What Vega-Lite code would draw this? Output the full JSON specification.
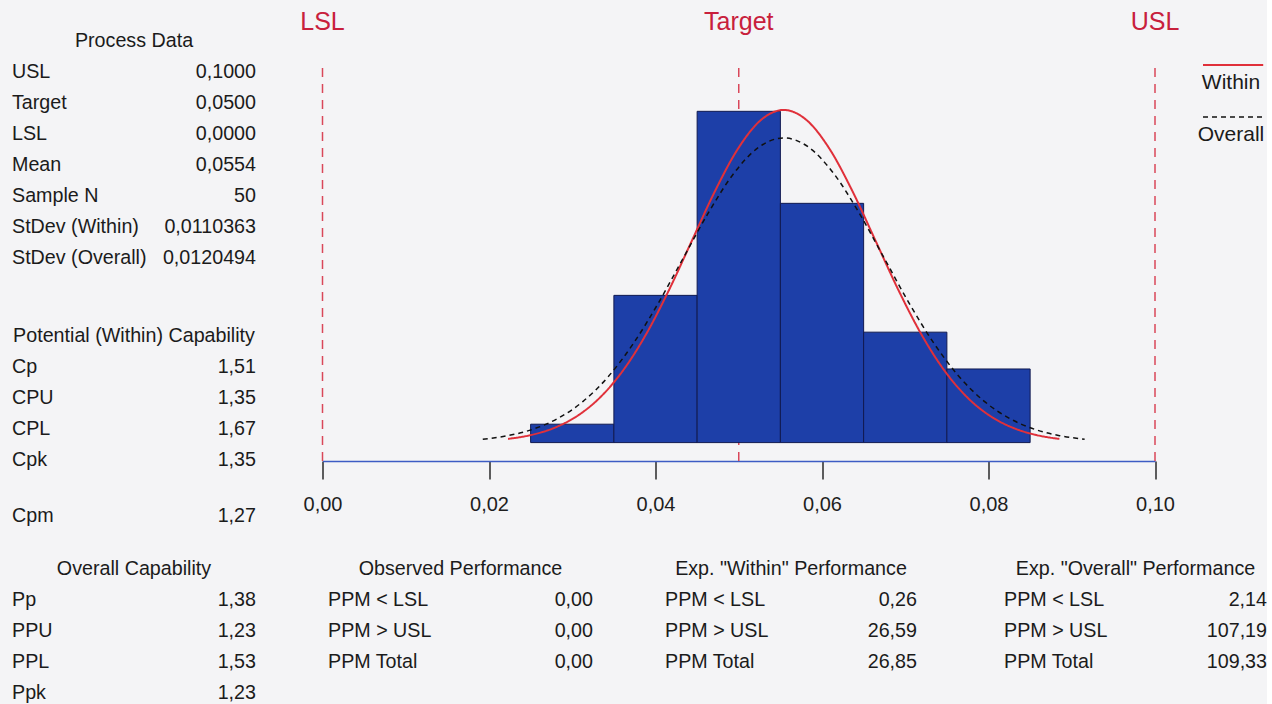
{
  "$schema": "https://vega.github.io/schema/vega-lite/v6.json",
  "background": "#f4f4f6",
  "padding": {"left": 12, "top": 8, "right": 0, "bottom": 0},
  "config": {
    "font": "Liberation Sans",
    "view": {"stroke": null},
    "text": {"fontSize": 19.7, "color": "#1b1b1b", "baseline": "middle"}
  },
  "datasets": {
    "process": [
      {"label": "USL", "value": "0,1000"},
      {"label": "Target", "value": "0,0500"},
      {"label": "LSL", "value": "0,0000"},
      {"label": "Mean", "value": "0,0554"},
      {"label": "Sample N", "value": "50"},
      {"label": "StDev (Within)", "value": "0,0110363"},
      {"label": "StDev (Overall)", "value": "0,0120494"}
    ],
    "potential": [
      {"label": "Cp", "value": "1,51"},
      {"label": "CPU", "value": "1,35"},
      {"label": "CPL", "value": "1,67"},
      {"label": "Cpk", "value": "1,35"}
    ],
    "cpm": [{"label": "Cpm", "value": "1,27"}],
    "overallcap": [
      {"label": "Pp", "value": "1,38"},
      {"label": "PPU", "value": "1,23"},
      {"label": "PPL", "value": "1,53"},
      {"label": "Ppk", "value": "1,23"}
    ],
    "observed": [
      {"label": "PPM < LSL", "value": "0,00"},
      {"label": "PPM > USL", "value": "0,00"},
      {"label": "PPM Total", "value": "0,00"}
    ],
    "expwithin": [
      {"label": "PPM < LSL", "value": "0,26"},
      {"label": "PPM > USL", "value": "26,59"},
      {"label": "PPM Total", "value": "26,85"}
    ],
    "expoverall": [
      {"label": "PPM < LSL", "value": "2,14"},
      {"label": "PPM > USL", "value": "107,19"},
      {"label": "PPM Total", "value": "109,33"}
    ],
    "hist": [
      {"bin_start": 0.025, "bin_end": 0.035, "count": 1},
      {"bin_start": 0.035, "bin_end": 0.045, "count": 8},
      {"bin_start": 0.045, "bin_end": 0.055, "count": 18},
      {"bin_start": 0.055, "bin_end": 0.065, "count": 13},
      {"bin_start": 0.065, "bin_end": 0.075, "count": 6},
      {"bin_start": 0.075, "bin_end": 0.085, "count": 4}
    ],
    "curves": [
      {"series": "Within", "value": 0.022291, "count": 0.201},
      {"series": "Within", "value": 0.025050, "count": 0.412},
      {"series": "Within", "value": 0.027809, "count": 0.794},
      {"series": "Within", "value": 0.030568, "count": 1.438},
      {"series": "Within", "value": 0.033327, "count": 2.446},
      {"series": "Within", "value": 0.036086, "count": 3.909},
      {"series": "Within", "value": 0.038846, "count": 5.868},
      {"series": "Within", "value": 0.041605, "count": 8.275},
      {"series": "Within", "value": 0.044364, "count": 10.963},
      {"series": "Within", "value": 0.047123, "count": 13.643},
      {"series": "Within", "value": 0.049882, "count": 15.950},
      {"series": "Within", "value": 0.052641, "count": 17.518},
      {"series": "Within", "value": 0.0554, "count": 18.074},
      {"series": "Within", "value": 0.058159, "count": 17.518},
      {"series": "Within", "value": 0.060918, "count": 15.950},
      {"series": "Within", "value": 0.063677, "count": 13.643},
      {"series": "Within", "value": 0.066436, "count": 10.963},
      {"series": "Within", "value": 0.069195, "count": 8.275},
      {"series": "Within", "value": 0.071954, "count": 5.868},
      {"series": "Within", "value": 0.074714, "count": 3.909},
      {"series": "Within", "value": 0.077473, "count": 2.446},
      {"series": "Within", "value": 0.080232, "count": 1.438},
      {"series": "Within", "value": 0.082991, "count": 0.794},
      {"series": "Within", "value": 0.085750, "count": 0.412},
      {"series": "Within", "value": 0.088509, "count": 0.201},
      {"series": "Overall", "value": 0.019252, "count": 0.184},
      {"series": "Overall", "value": 0.022264, "count": 0.377},
      {"series": "Overall", "value": 0.025276, "count": 0.727},
      {"series": "Overall", "value": 0.028289, "count": 1.317},
      {"series": "Overall", "value": 0.031301, "count": 2.240},
      {"series": "Overall", "value": 0.034314, "count": 3.580},
      {"series": "Overall", "value": 0.037326, "count": 5.374},
      {"series": "Overall", "value": 0.040338, "count": 7.579},
      {"series": "Overall", "value": 0.043351, "count": 10.041},
      {"series": "Overall", "value": 0.046363, "count": 12.496},
      {"series": "Overall", "value": 0.049375, "count": 14.609},
      {"series": "Overall", "value": 0.052388, "count": 16.045},
      {"series": "Overall", "value": 0.0554, "count": 16.554},
      {"series": "Overall", "value": 0.058412, "count": 16.045},
      {"series": "Overall", "value": 0.061425, "count": 14.609},
      {"series": "Overall", "value": 0.064437, "count": 12.496},
      {"series": "Overall", "value": 0.067449, "count": 10.041},
      {"series": "Overall", "value": 0.070462, "count": 7.579},
      {"series": "Overall", "value": 0.073474, "count": 5.374},
      {"series": "Overall", "value": 0.076486, "count": 3.580},
      {"series": "Overall", "value": 0.079499, "count": 2.240},
      {"series": "Overall", "value": 0.082511, "count": 1.317},
      {"series": "Overall", "value": 0.085524, "count": 0.727},
      {"series": "Overall", "value": 0.088536, "count": 0.377},
      {"series": "Overall", "value": 0.091548, "count": 0.184}
    ],
    "specs": [
      {"name": "LSL", "value": 0},
      {"name": "Target", "value": 0.05},
      {"name": "USL", "value": 0.1}
    ],
    "legend": [{"series": "Within"}, {"series": "Overall"}]
  },
  "spacing": 23,
  "vconcat": [
    {
      "spacing": 43.5,
      "hconcat": [
        {
          "spacing": 0,
          "vconcat": [
            {
              "width": 244, "height": 283,
              "layer": [
                {"data": {"values": [{"heading": "Process Data"}]},
                 "mark": {"type": "text", "align": "center"},
                 "encoding": {
                   "x": {"datum": 0.5, "type": "quantitative", "scale": {"domain": [0, 1]}, "axis": null},
                   "y": {"field": "heading", "type": "nominal", "axis": null, "scale": {"type": "band", "domain": ["Process Data", "USL", "Target", "LSL", "Mean", "Sample N", "StDev (Within)", "StDev (Overall)"], "paddingInner": 0, "paddingOuter": 0.5645}},
                   "text": {"field": "heading"}}},
                {"data": {"name": "process"},
                 "mark": {"type": "text", "align": "left"},
                 "encoding": {
                   "x": {"datum": 0, "type": "quantitative", "axis": null},
                   "y": {"field": "label", "type": "nominal", "axis": null},
                   "text": {"field": "label"}}},
                {"data": {"name": "process"},
                 "mark": {"type": "text", "align": "right"},
                 "encoding": {
                   "x": {"datum": 1, "type": "quantitative", "axis": null},
                   "y": {"field": "label", "type": "nominal", "axis": null},
                   "text": {"field": "value"}}}
              ]
            },
            {
              "width": 244, "height": 208.5,
              "layer": [
                {"data": {"values": [{"heading": "Potential (Within) Capability"}]},
                 "mark": {"type": "text", "align": "center"},
                 "encoding": {
                   "x": {"datum": 0.5, "type": "quantitative", "scale": {"domain": [0, 1]}, "axis": null},
                   "y": {"field": "heading", "type": "nominal", "axis": null, "scale": {"type": "band", "domain": ["Potential (Within) Capability", "Cp", "CPU", "CPL", "Cpk"], "paddingInner": 0, "paddingOuter": 0.8629, "align": 0.5514}},
                   "text": {"field": "heading"}}},
                {"data": {"name": "potential"},
                 "mark": {"type": "text", "align": "left"},
                 "encoding": {
                   "x": {"datum": 0, "type": "quantitative", "axis": null},
                   "y": {"field": "label", "type": "nominal", "axis": null},
                   "text": {"field": "label"}}},
                {"data": {"name": "potential"},
                 "mark": {"type": "text", "align": "right"},
                 "encoding": {
                   "x": {"datum": 1, "type": "quantitative", "axis": null},
                   "y": {"field": "label", "type": "nominal", "axis": null},
                   "text": {"field": "value"}}}
              ]
            },
            {
              "width": 244, "height": 31,
              "data": {"name": "cpm"},
              "layer": [
                {"mark": {"type": "text", "align": "left"},
                 "encoding": {
                   "x": {"datum": 0, "type": "quantitative", "scale": {"domain": [0, 1]}, "axis": null},
                   "y": {"field": "label", "type": "nominal", "axis": null, "scale": {"type": "band", "paddingInner": 0, "paddingOuter": 0}},
                   "text": {"field": "label"}}},
                {"mark": {"type": "text", "align": "right"},
                 "encoding": {
                   "x": {"datum": 1, "type": "quantitative", "axis": null},
                   "y": {"field": "label", "type": "nominal", "axis": null},
                   "text": {"field": "value"}}}
              ]
            }
          ]
        },
        {
          "spacing": 16.5,
          "hconcat": [
            {
              "width": 832.5, "height": 453,
              "layer": [
                {"data": {"name": "specs"},
                 "mark": {"type": "rule", "color": "#d9475a", "strokeDash": [9, 7], "strokeWidth": 1.5},
                 "encoding": {
                   "x": {"field": "value", "type": "quantitative", "scale": {"domain": [0, 0.1], "nice": false, "zero": false},
                         "axis": {"orient": "bottom", "values": [0, 0.02, 0.04, 0.06, 0.08, 0.1], "labelExpr": "replace(format(datum.value, '.2f'), '.', ',')", "title": null, "grid": false, "domainColor": "#3d5cc4", "domainWidth": 1.5, "tickColor": "#2a2a2a", "tickWidth": 1.5, "tickSize": 18, "labelFontSize": 20, "labelColor": "#1e1e1e", "labelPadding": 15, "labelFlush": false, "labelOverlap": false}},
                   "y": {"datum": 20.35, "type": "quantitative", "scale": {"domain": [-1, 23.614], "nice": false, "zero": false}, "axis": null},
                   "y2": {"datum": -1}}},
                {"data": {"name": "hist"},
                 "mark": {"type": "bar", "fill": "#1d3fa8", "stroke": "#101a50", "strokeWidth": 1},
                 "encoding": {
                   "x": {"field": "bin_start", "type": "quantitative"},
                   "x2": {"field": "bin_end"},
                   "y": {"field": "count", "type": "quantitative", "axis": null},
                   "y2": {"datum": 0}}},
                {"data": {"name": "curves"},
                 "mark": {"type": "line", "interpolate": "monotone"},
                 "encoding": {
                   "x": {"field": "value", "type": "quantitative"},
                   "y": {"field": "count", "type": "quantitative", "axis": null},
                   "color": {"field": "series", "type": "nominal", "scale": {"domain": ["Within", "Overall"], "range": ["#e0303a", "#111111"]}, "legend": null},
                   "strokeDash": {"field": "series", "type": "nominal", "scale": {"domain": ["Within", "Overall"], "range": [[1, 0], [5, 4]]}, "legend": null},
                   "strokeWidth": {"field": "series", "type": "nominal", "scale": {"domain": ["Within", "Overall"], "range": [2, 1.5]}, "legend": null}}},
                {"data": {"name": "specs"},
                 "mark": {"type": "text", "color": "#c8203c", "fontSize": 25, "baseline": "middle"},
                 "encoding": {
                   "x": {"field": "value", "type": "quantitative"},
                   "y": {"datum": 22.85, "type": "quantitative"},
                   "text": {"field": "name"}}}
              ]
            },
            {
              "width": 70, "height": 157,
              "data": {"name": "legend"},
              "layer": [
                {"mark": {"type": "rule"},
                 "encoding": {
                   "x": {"datum": 0.1, "type": "quantitative", "scale": {"domain": [0, 1]}, "axis": null},
                   "x2": {"datum": 0.96},
                   "y": {"field": "series", "type": "nominal", "bandPosition": 0.077, "axis": null, "scale": {"type": "band", "domain": ["Within", "Overall"], "paddingInner": 0, "paddingOuter": 0.5096, "align": 1}},
                   "color": {"field": "series", "type": "nominal", "scale": {"domain": ["Within", "Overall"], "range": ["#e0303a", "#111111"]}, "legend": null},
                   "strokeDash": {"field": "series", "type": "nominal", "scale": {"domain": ["Within", "Overall"], "range": [[1, 0], [5, 4]]}, "legend": null},
                   "strokeWidth": {"field": "series", "type": "nominal", "scale": {"domain": ["Within", "Overall"], "range": [2, 1.5]}, "legend": null}}},
                {"mark": {"type": "text", "align": "center", "fontSize": 21},
                 "encoding": {
                   "x": {"datum": 0.5, "type": "quantitative", "axis": null},
                   "y": {"field": "series", "type": "nominal", "bandPosition": 0.42, "axis": null},
                   "text": {"field": "series"}}}
              ]
            }
          ]
        }
      ]
    },
    {
      "spacing": 72,
      "hconcat": [
        {
          "width": 244, "height": 150,
          "layer": [
            {"data": {"values": [{"heading": "Overall Capability"}]},
             "mark": {"type": "text", "align": "center"},
             "encoding": {
               "x": {"datum": 0.5, "type": "quantitative", "scale": {"domain": [0, 1]}, "axis": null},
               "y": {"field": "heading", "type": "nominal", "axis": null, "scale": {"type": "point", "domain": ["Overall Capability", "Pp", "PPU", "PPL", "Ppk"], "padding": 0.435, "align": 0.5746}},
               "text": {"field": "heading"}}},
            {"data": {"name": "overallcap"},
             "mark": {"type": "text", "align": "left"},
             "encoding": {
               "x": {"datum": 0, "type": "quantitative", "axis": null},
               "y": {"field": "label", "type": "nominal", "axis": null},
               "text": {"field": "label"}}},
            {"data": {"name": "overallcap"},
             "mark": {"type": "text", "align": "right"},
             "encoding": {
               "x": {"datum": 1, "type": "quantitative", "axis": null},
               "y": {"field": "label", "type": "nominal", "axis": null},
               "text": {"field": "value"}}}
          ]
        },
        {
          "width": 265, "height": 123.2,
          "layer": [
            {"data": {"values": [{"heading": "Observed Performance"}]},
             "mark": {"type": "text", "align": "center"},
             "encoding": {
               "x": {"datum": 0.5, "type": "quantitative", "scale": {"domain": [0, 1]}, "axis": null},
               "y": {"field": "heading", "type": "nominal", "axis": null, "scale": {"type": "band", "domain": ["Observed Performance", "PPM < LSL", "PPM > USL", "PPM Total"], "paddingInner": 0, "paddingOuter": 0}},
               "text": {"field": "heading"}}},
            {"data": {"name": "observed"},
             "mark": {"type": "text", "align": "left"},
             "encoding": {
               "x": {"datum": 0, "type": "quantitative", "axis": null},
               "y": {"field": "label", "type": "nominal", "axis": null},
               "text": {"field": "label"}}},
            {"data": {"name": "observed"},
             "mark": {"type": "text", "align": "right"},
             "encoding": {
               "x": {"datum": 1, "type": "quantitative", "axis": null},
               "y": {"field": "label", "type": "nominal", "axis": null},
               "text": {"field": "value"}}}
          ]
        },
        {
          "spacing": 87,
          "hconcat": [
            {
              "width": 252, "height": 123.2,
              "layer": [
                {"data": {"values": [{"heading": "Exp. \"Within\" Performance"}]},
                 "mark": {"type": "text", "align": "center"},
                 "encoding": {
                   "x": {"datum": 0.5, "type": "quantitative", "scale": {"domain": [0, 1]}, "axis": null},
                   "y": {"field": "heading", "type": "nominal", "axis": null, "scale": {"type": "band", "domain": ["Exp. \"Within\" Performance", "PPM < LSL", "PPM > USL", "PPM Total"], "paddingInner": 0, "paddingOuter": 0}},
                   "text": {"field": "heading"}}},
                {"data": {"name": "expwithin"},
                 "mark": {"type": "text", "align": "left"},
                 "encoding": {
                   "x": {"datum": 0, "type": "quantitative", "axis": null},
                   "y": {"field": "label", "type": "nominal", "axis": null},
                   "text": {"field": "label"}}},
                {"data": {"name": "expwithin"},
                 "mark": {"type": "text", "align": "right"},
                 "encoding": {
                   "x": {"datum": 1, "type": "quantitative", "axis": null},
                   "y": {"field": "label", "type": "nominal", "axis": null},
                   "text": {"field": "value"}}}
              ]
            },
            {
              "width": 263, "height": 123.2,
              "layer": [
                {"data": {"values": [{"heading": "Exp. \"Overall\" Performance"}]},
                 "mark": {"type": "text", "align": "center"},
                 "encoding": {
                   "x": {"datum": 0.5, "type": "quantitative", "scale": {"domain": [0, 1]}, "axis": null},
                   "y": {"field": "heading", "type": "nominal", "axis": null, "scale": {"type": "band", "domain": ["Exp. \"Overall\" Performance", "PPM < LSL", "PPM > USL", "PPM Total"], "paddingInner": 0, "paddingOuter": 0}},
                   "text": {"field": "heading"}}},
                {"data": {"name": "expoverall"},
                 "mark": {"type": "text", "align": "left"},
                 "encoding": {
                   "x": {"datum": 0, "type": "quantitative", "axis": null},
                   "y": {"field": "label", "type": "nominal", "axis": null},
                   "text": {"field": "label"}}},
                {"data": {"name": "expoverall"},
                 "mark": {"type": "text", "align": "right"},
                 "encoding": {
                   "x": {"datum": 1, "type": "quantitative", "axis": null},
                   "y": {"field": "label", "type": "nominal", "axis": null},
                   "text": {"field": "value"}}}
              ]
            }
          ]
        }
      ]
    }
  ]
}
